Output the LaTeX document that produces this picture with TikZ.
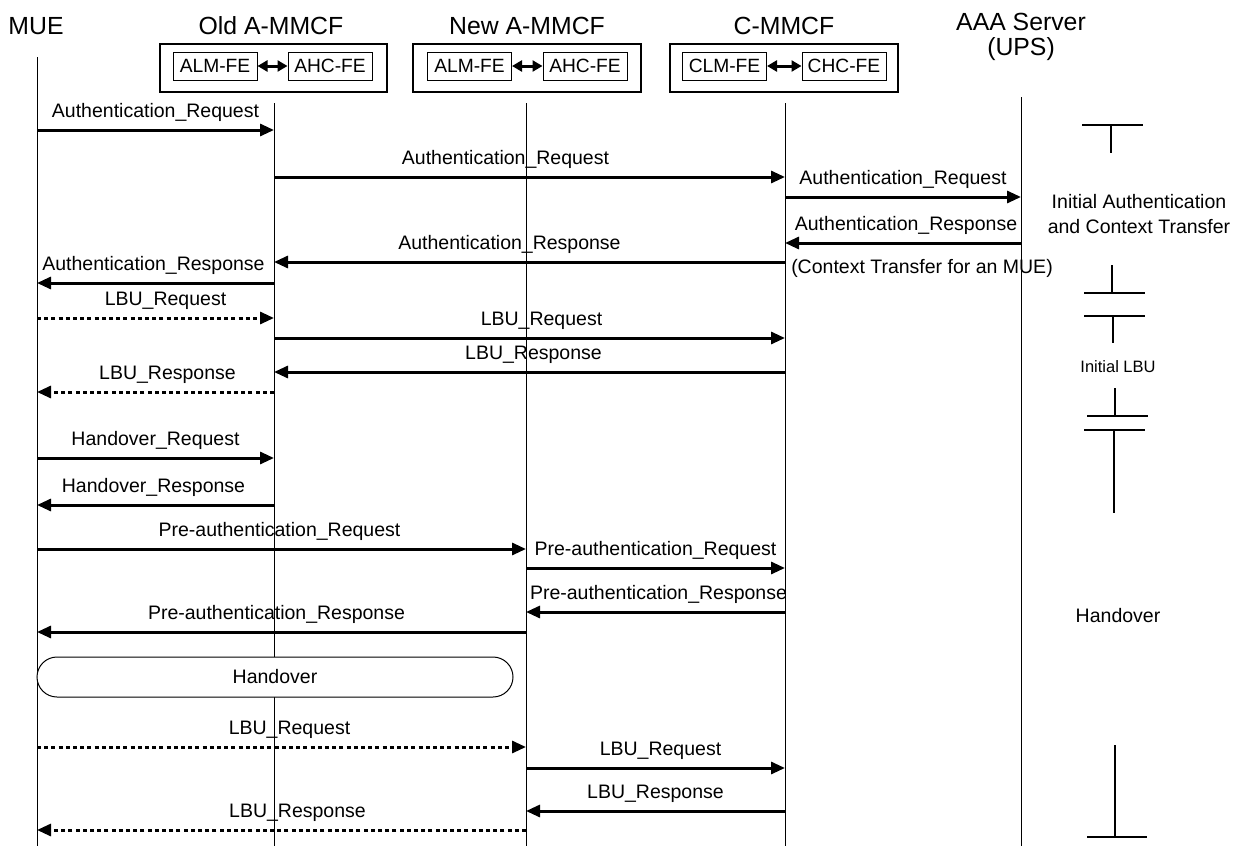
\documentclass[tikz,border=0pt]{standalone}
\usepackage{fontspec}
\setmainfont{Liberation Sans}
\usetikzlibrary{arrows.meta,positioning,shapes}
\tikzset{
  actor/.style  = {font=\fontsize{12.4}{12.5}\selectfont, align=center},
  entity/.style = {draw, line width=1pt, minimum height=24pt, inner sep=0pt},
  fe/.style     = {draw, line width=0.5pt, minimum width=42pt, minimum height=14pt,
                   inner sep=0pt, font=\fontsize{9.6}{11}\selectfont},
  life/.style   = {line width=0.5pt},
  msg/.style    = {line width=1.5pt, -{Triangle[length=7pt,width=6pt]}},
  dmsg/.style   = {msg, dash pattern=on 2pt off 1.6pt},
  lbl/.style    = {anchor=base, yshift=6.5pt, inner sep=0pt,
                   font=\fontsize{9.75}{11}\selectfont},
  note/.style   = {align=center, font=\fontsize{9.75}{12.5}\selectfont},
  phase/.style  = {line width=1pt}
}

\begin{document}
\begin{tikzpicture}[x=0.5pt, y=-0.5pt, >=latex]
\useasboundingbox (0,0) rectangle (1242,846);

% actors and their functional entities
\node[actor] (tmue) at (36,26) {MUE};
\node[actor] (told) at (271,26) {Old A-MMCF};
\node[actor] (tnew) at (527,26) {New A-MMCF};
\node[actor] (tcm)  at (784,26) {C-MMCF};
\node[actor] (taaa) at (1021,37) {AAA Server\\(UPS)};

\node[entity, minimum width=113.5pt] (oldbox) at (273.5,68) {};
\node[entity, minimum width=114pt]   (newbox) at (527,68) {};
\node[entity, minimum width=114pt]   (cmbox)  at (784,68) {};

\node[fe] (oalm) at (215,66) {ALM-FE};
\node[fe] (oahc) at (330,66) {AHC-FE};
\node[fe] (nalm) at (469.5,66) {ALM-FE};
\node[fe] (nahc) at (585,66) {AHC-FE};
\node[fe] (cclm) at (724.5,66) {CLM-FE};
\node[fe] (cchc) at (844,66) {CHC-FE};

\foreach \a/\b in {oalm/oahc, nalm/nahc, cclm/cchc}
  \draw[line width=1.5pt, {Triangle[length=5pt,width=5.5pt]}-{Triangle[length=5pt,width=5.5pt]}] (\a) -- (\b);

% lifelines
\coordinate (mue) at (37,57);
\coordinate (old) at (274,103);
\coordinate (new) at (526,103);
\coordinate (cm)  at (785,103);
\coordinate (aaa) at (1021,97);
\foreach \l in {mue,old,new,cm,aaa}
  \draw[life] (\l) -- (\l |- 0,846);

% messages: y / from / to / text / style / label shift
\foreach \y/\a/\b/\t/\s/\dx in {
   130/mue/old/Authentication\_Request/msg/0,
   177/old/cm/Authentication\_Request/msg/-12,
   197/cm/aaa/Authentication\_Request/msg/0,
   243/aaa/cm/Authentication\_Response/msg/1.5,
   262/cm/old/Authentication\_Response/msg/-10,
   283/old/mue/Authentication\_Response/msg/-1,
   318/mue/old/LBU\_Request/dmsg/5,
   338/old/cm/LBU\_Request/msg/6,
   372/cm/old/LBU\_Response/msg/2,
   392/old/mue/LBU\_Response/dmsg/6,
   458/mue/old/Handover\_Request/msg/0,
   505/old/mue/Handover\_Response/msg/-1,
   549/mue/new/Pre-authentication\_Request/msg/-1,
   568/new/cm/Pre-authentication\_Request/msg/0,
   612/cm/new/Pre-authentication\_Response/msg/1.5,
   632/new/mue/Pre-authentication\_Response/msg/-2.5,
   747/mue/new/LBU\_Request/dmsg/4,
   768/new/cm/LBU\_Request/msg/2.5,
   811/cm/new/LBU\_Response/msg/0,
   830/new/mue/LBU\_Response/dmsg/8}
  \draw[\s] (\a |- 0,\y) -- node[lbl, xshift=\dx pt] {\t} (\b |- 0,\y);

\node[note] (ctx) at (922,268) {(Context Transfer for an MUE)};

% handover box over the old lifeline
\node[draw, fill=white, line width=0.5pt, rounded corners=10pt,
      minimum width=238pt, minimum height=20pt,
      font=\fontsize{9.75}{11}\selectfont] (hobox) at (275,677) {Handover};

% phases on the right
\draw[phase] (1082,125) -- (1143,125) (1111,125) -- (1111,153);
\node[note] (iac) at (1139,214) {Initial Authentication\\and Context Transfer};
\draw[phase] (1112,265) -- (1112,293) (1084,293) -- (1145,293);

\draw[phase] (1084,316) -- (1145,316) (1113,316) -- (1113,343);
\node[note, font=\fontsize{8.25}{10}\selectfont] (ilbu) at (1118,367) {Initial LBU};
\draw[phase] (1115,388) -- (1115,416) (1087,416) -- (1148,416);

\draw[phase] (1084,430) -- (1145,430) (1114,430) -- (1114,513);
\node[note] (ho) at (1118,616) {Handover};
\draw[phase] (1115,745) -- (1115,837) (1087,837) -- (1147,837);

\end{tikzpicture}
\end{document}
